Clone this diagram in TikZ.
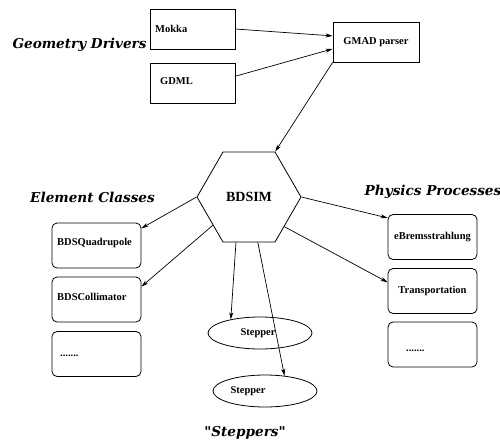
\documentclass[tikz,border=0pt]{standalone}
\usepackage{fontspec}
\setmainfont{Liberation Serif}
\newfontfamily\headfont{DejaVu Serif}
\usetikzlibrary{shapes.geometric,arrows.meta}
\tikzset{
  lbl/.style={font=\fontsize{10.5}{12}\selectfont\bfseries,inner sep=0pt},
  sq/.style={draw,line width=0.8pt,minimum width=85pt,minimum height=40pt,inner sep=0pt,font=\fontsize{10.5}{12}\selectfont\bfseries},
  rbox/.style={draw,line width=0.8pt,rounded corners=5pt,minimum width=89pt,minimum height=45pt,inner sep=0pt,font=\fontsize{10.5}{12}\selectfont\bfseries},
  ell/.style={draw,ellipse,line width=0.8pt,minimum width=104pt,minimum height=32pt,inner sep=0pt},
  head/.style={font=\headfont\fontsize{13.6}{15}\selectfont\bfseries\itshape,inner sep=0pt},
  conn/.style={draw,line width=0.7pt,-{Stealth[length=7pt,width=4pt,inset=2pt]}}
}
\begin{document}
\begin{tikzpicture}[x=1pt,y=-1pt]
\useasboundingbox (0,0) rectangle (500,440);
% geometry
\node[sq] (mokka) at (192.5,29) {};
\node[lbl,anchor=west] (mokkat) at (155,29) {Mokka};
\node[sq] (gdml) at (192.5,83) {};
\node[lbl,anchor=west] (gdmlt) at (160,81) {GDML};
\node[sq,minimum width=86pt] (gmad) at (376,42) {GMAD parser};
\node[head] (geo) at (79.5,45) {Geometry Drivers};
% hexagon
\node[draw,regular polygon,regular polygon sides=6,minimum size=104pt,inner sep=0pt,line width=0.8pt,font=\fontsize{14}{16}\selectfont\bfseries] (hex) at (249,197) {BDSIM};
% element classes
\node[head] (elem) at (92.5,197) {Element Classes};
\node[rbox] (quad) at (96.5,245.5) {};
\node[lbl,anchor=west] (quadt) at (57,243) {BDSQuadrupole};
\node[rbox] (coll) at (96.5,299.5) {};
\node[lbl,anchor=west] (collt) at (57,297) {BDSCollimator};
\node[rbox] (edots) at (96.5,354) {};
\node[lbl,anchor=west] (edotst) at (60,356) {.......};
% physics
\node[head] (phys) at (433,192) {Physics Processes};
\node[rbox] (brems) at (432.5,237) {eBremsstrahlung};
\node[rbox] (trans) at (432.5,291) {Transportation};
\node[rbox] (pdots) at (432.5,344.5) {};
\node[lbl,anchor=west] (pdotst) at (406,351) {.......};
% steppers
\node[ell] (s1) at (260,333) {};
\node[lbl] (s1t) at (258,333) {Stepper};
\node[ell] (s2) at (265,391) {};
\node[lbl] (s2t) at (248,391) {Stepper};
\node[head] (step) at (245,433) {"Steppers"};
% connectors
\draw[conn] (mokka.east) -- (gmad.172);
\draw[conn] (gdml.9) -- (gmad.189);
\draw[conn] (gmad.south west) -- (hex.60);
\draw[conn] (hex.180) -- (quad.21);
\draw[conn] (hex.218) -- (coll.16);
\draw[conn] (hex.0) -- (brems.157);
\draw[conn] (hex.320) -- (trans.169);
\draw[conn] (hex.254) -- (s1.155);
\draw[conn] (hex.281) -- (s2.38);
\end{tikzpicture}
\end{document}
